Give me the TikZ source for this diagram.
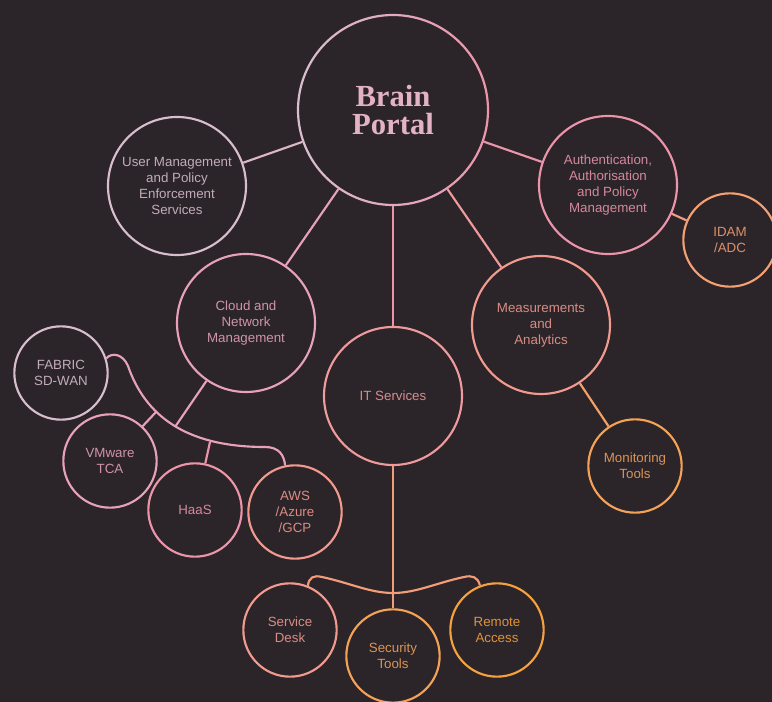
\documentclass[tikz,border=0pt]{standalone}
\usepackage{fontspec}
\setmainfont{Liberation Sans}
\newfontfamily\titlefont{Liberation Serif}
\usetikzlibrary{positioning}
\definecolor{bg}{HTML}{2B252A}
\definecolor{lav}{HTML}{D8BECC}
\definecolor{rose}{HTML}{E2AEC0}
\definecolor{pinkA}{HTML}{E8A2B8}
\definecolor{pinkB}{HTML}{EC95AA}
\definecolor{salmonA}{HTML}{EF9A9C}
\definecolor{salmonB}{HTML}{F29A8E}
\definecolor{peach}{HTML}{F4A072}
\definecolor{amberA}{HTML}{F4A256}
\definecolor{amberB}{HTML}{F5A23E}
\tikzset{
bubble/.style={
  circle, draw=#1, line width=1.6pt, inner sep=0pt,
  text=#1!88!bg, align=center,
  font=\fontsize{10}{12}\selectfont
  },
bigbubble/.style={bubble=#1, minimum size=103.5pt},
smallbubble/.style={bubble=#1, minimum size=70pt},
link/.style={draw=#1, line width=1.6pt}
}

\begin{document}
\begin{tikzpicture}[x=0.75pt,y=-0.75pt]
\useasboundingbox[fill=bg] (0,0) rectangle (772,702);

\node[bubble=rose, draw=none, text=rose!95!white, minimum size=142.5pt,
      font=\titlefont\bfseries\fontsize{23}{21}\selectfont]
  (brain) at (393,110) {Brain\\Portal};
% ring with a soft gradient
\shade[left color=lav, right color=pinkB, even odd rule]
  (brain.center) circle[radius=96.1] (brain.center) circle[radius=93.9];

\node[bigbubble=lav]    (user) at (177,186) {User Management\\and Policy\\Enforcement\\Services};
\node[bigbubble=pinkB]  (auth) at (608,185) {Authentication,\\Authorisation\\and Policy\\Management};
\node[bigbubble=pinkA]  (cloud) at (246,323) {Cloud and\\Network\\Management};
\node[bigbubble=salmonA] (it) at (393,396) {IT Services};
\node[bigbubble=salmonB] (meas) at (541,325) {Measurements\\and\\Analytics};

\node[smallbubble=peach]  (idam) at (730,240) {IDAM\\/ADC};
\node[smallbubble=amberA] (mon) at (635,466) {Monitoring\\Tools};

\node[smallbubble=lav]     (fabric) at (61,373) {FABRIC\\SD-WAN};
\node[smallbubble=pinkA]   (vmware) at (110,461) {VMware\\TCA};
\node[smallbubble=pinkB]   (haas) at (195,510) {HaaS};
\node[smallbubble=salmonB] (aws) at (295,512) {AWS\\/Azure\\/GCP};

\node[smallbubble=salmonB] (desk) at (290,630) {Service\\Desk};
\node[smallbubble=amberA]  (sec) at (393,656) {Security\\Tools};
\node[smallbubble=amberB]  (remote) at (497,630) {Remote\\Access};

% spokes
\draw[link=lav!50!rose]   (brain) -- (user);
\draw[link=pinkB]         (brain) -- (auth);
\draw[link=pinkA]         (brain) -- (cloud);
\draw[link=pinkB]         (brain) -- (it);
\draw[link=salmonA]       (brain) -- (meas);
\draw[link=peach!60!pinkB] (auth) -- (idam);
\draw[link=amberA!70!salmonB] (meas) -- (mon);

% cloud group
\coordinate (vt) at (156,412);
\coordinate (ct) at (175,427);
\coordinate (ht) at (210,442);
\draw[link=pinkA]
  (fabric.18) .. controls (112,352) and (123,354) .. (128,366)
  .. controls (145,415) and (185,447) .. (265,447)
  .. controls (279,447) and (284,455) .. (aws.102);
\draw[link=pinkA] (cloud) -- (ct);
\draw[link=pinkA] (vt) -- (vmware);
\draw[link=pinkB] (ht) -- (haas);

% it group
\draw[link=salmonB!60!amberA]
  (desk.68) .. controls (309,577) and (314,575) .. (322,577)
  .. controls (350,583) and (370,593) .. (393,593)
  .. controls (416,593) and (436,583) .. (464,577)
  .. controls (472,575) and (478,577) .. (remote.111);
\draw[link=salmonB!60!amberA] (it) -- (sec);

\end{tikzpicture}
\end{document}
